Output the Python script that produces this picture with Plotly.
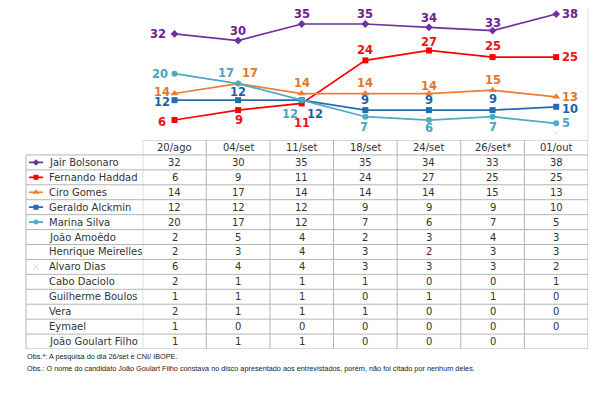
import plotly.graph_objects as go

dates = ["20/ago", "04/set", "11/set", "18/set", "24/set", "26/set*", "01/out"]
candidates = ["Jair Bolsonaro", "Fernando Haddad", "Ciro Gomes", "Geraldo Alckmin", "Marina Silva",
              "João Amoêdo", "Henrique Meirelles", "Alvaro Dias", "Cabo Daciolo", "Guilherme Boulos",
              "Vera", "Eymael", "João Goulart Filho"]
bolsonaro = [32, 30, 35, 35, 34, 33, 38]
haddad = [6, 9, 11, 24, 27, 25, 25]
ciro = [14, 17, 14, 14, 14, 15, 13]
alckmin = [12, 12, 12, 9, 9, 9, 10]
marina = [20, 17, 12, 7, 6, 7, 5]
amoedo = [2, 5, 4, 2, 3, 4, 3]
meirelles = [2, 3, 4, 3, 2, 3, 3]
dias = [6, 4, 4, 3, 3, 3, 2]
daciolo = [2, 1, 1, 1, 0, 0, 1]
boulos = [1, 1, 1, 0, 1, 1, 0]
vera = [2, 1, 1, 1, 0, 0, 0]
eymael = [1, 0, 0, 0, 0, 0, 0]
goulart = [1, 1, 1, 0, 0, 0, None]
rows = [bolsonaro, haddad, ciro, alckmin, marina, amoedo, meirelles, dias, daciolo, boulos, vera, eymael, goulart]
footnote1 = "Obs.*: A pesquisa do dia 26/set é CNI/ IBOPE."
footnote2 = "Obs.: O nome do candidato João Goulart Filho constava no disco apresentado aos entrevistados, porém, não foi citado por nenhum deles."

# page body has an 8px margin: work in page pixels and convert
OFF = 8
W, H = 598, 385
def px(x):
    return min(1.0, max(0.0, (x - OFF) / W))
def py(y):
    return min(1.0, max(0.0, (H - (y - OFF)) / H))

# y scale: value 0 at page y 139.9, 3.312 px per unit; axis top at page y 8
Y0_PIX, Y_PER = 139.9, 3.312
Y_TOP = (Y0_PIX - OFF) / Y_PER

series = [
    ("Jair Bolsonaro", bolsonaro, "#7030A0", "diamond", 6),
    ("Fernando Haddad", haddad, "#FF0000", "square", 6),
    ("Ciro Gomes", ciro, "#ED7D31", "triangle-up", 7),
    ("Geraldo Alckmin", alckmin, "#1F6DB5", "square", 6),
    ("Marina Silva", marina, "#4BACC6", "circle", 6),
]
label_colors = {"Jair Bolsonaro": "#702090", "Fernando Haddad": "#F01010", "Ciro Gomes": "#E8742A",
                "Geraldo Alckmin": "#1F5FA8", "Marina Silva": "#4BA5C2"}
placements = {
    "Jair Bolsonaro": [("right", -7, 0), ("center", 0, 10), ("center", 0, 10), ("center", 0, 10), ("center", 0, 9), ("center", 0, 8), ("left", 4, 0)],
    "Fernando Haddad": [("right", -7, -2), ("center", 1, -10), ("center", 0, -20), ("center", 0, 10), ("center", 0, 8), ("center", 0, 11), ("left", 4, 0)],
    "Ciro Gomes": [("right", -3, 2), ("left", 2, 11), ("center", 0, 11), ("center", 0, 11), ("center", 0, 8), ("center", 0, 10), ("left", 4, 0)],
    "Geraldo Alckmin": [("right", -3, -2), ("center", 0, 8), ("left", 3, -14), ("center", 0, 10), ("center", 0, 10), ("center", 0, 11), ("left", 4, -2)],
    "Marina Silva": [("right", -5, 0), ("right", -2, 11), ("right", -2, -14), ("center", -1, -10), ("center", 0, -8), ("center", 0, -10), ("left", 4, 0)],
}

fig = go.Figure()

# Alvaro Dias faint markers
fig.add_trace(go.Scatter(x=dates, y=dias, mode="markers", marker=dict(symbol="x-thin", size=6,
                         line=dict(color="#e3e3e3", width=1)), xaxis="x", yaxis="y", hoverinfo="skip"))

for name, vals, col, sym, sz in series:
    fig.add_trace(go.Scatter(x=dates, y=vals, mode="lines+markers", name=name,
                             line=dict(color=col, width=1.7),
                             marker=dict(symbol=sym, size=sz, color=col),
                             xaxis="x", yaxis="y", hoverinfo="skip", cliponaxis=False))

annotations = []
for name, vals, col, sym, sz in series:
    for i, v in enumerate(vals):
        xa, xs, ys = placements[name][i]
        annotations.append(dict(x=dates[i], y=v, xref="x", yref="y", text=str(v), showarrow=False,
                                xanchor=xa, yanchor="middle", xshift=xs, yshift=ys,
                                font=dict(family="DejaVu Sans", size=11.5, color=label_colors[name], weight="bold")))

# ---- table built on axes: x = date category, y3 = row index (header = -1)
tfont = dict(family="DejaVu Sans", size=10, color="#333333")
border = "#b4b4b4"
nrows = len(candidates)
for j, d in enumerate(dates):
    annotations.append(dict(x=d, y=-1, xref="x", yref="y3", text=d, showarrow=False,
                            xanchor="center", yanchor="middle", font=tfont))
    for i, r in enumerate(rows):
        if r[j] is None:
            continue
        annotations.append(dict(x=d, y=i, xref="x", yref="y3", text=str(r[j]), showarrow=False,
                                xanchor="center", yanchor="middle", font=tfont))
for i, c in enumerate(candidates):
    annotations.append(dict(x=21, y=i, xref="x2", yref="y3", text=c, showarrow=False,
                            xanchor="left", yanchor="middle", font=tfont))

shapes = []
left_name = px(26)
right_edge = px(588)
shapes.append(dict(type="line", xref="x", yref="y3", x0=-0.5, x1=len(dates) - 0.5, y0=-1.5, y1=-1.5,
                   line=dict(color=border, width=1)))
for k in range(nrows + 1):
    shapes.append(dict(type="line", xref="paper", yref="y3", x0=left_name, x1=right_edge, y0=k - 0.5, y1=k - 0.5,
                       line=dict(color=border, width=1)))
shapes.append(dict(type="line", xref="paper", yref="y3", x0=left_name, x1=left_name, y0=-0.5, y1=nrows - 0.5,
                   line=dict(color=border, width=1)))
for j in range(len(dates) + 1):
    shapes.append(dict(type="line", xref="x", yref="y3", x0=j - 0.5, x1=j - 0.5, y0=-1.5, y1=nrows - 0.5,
                       line=dict(color=border, width=1)))
shapes.append(dict(type="line", xref="paper", yref="paper", x0=right_edge, x1=right_edge, y0=py(0), y1=py(140),
                   line=dict(color="#dddddd", width=1)))

# legend samples in table first column
for k, (name, vals, col, sym, sz) in enumerate(series):
    fig.add_trace(go.Scatter(x=[3, 17], y=[k, k], mode="lines", line=dict(color=col, width=1.7),
                             xaxis="x2", yaxis="y3", hoverinfo="skip"))
    fig.add_trace(go.Scatter(x=[10], y=[k], mode="markers", marker=dict(symbol=sym, size=sz - 1, color=col),
                             xaxis="x2", yaxis="y3", hoverinfo="skip"))
fig.add_trace(go.Scatter(x=[10], y=[candidates.index("Alvaro Dias")], mode="markers",
                         marker=dict(symbol="x-thin", size=6, line=dict(color="#dddddd", width=1)),
                         xaxis="x2", yaxis="y3", hoverinfo="skip"))

ffont = dict(family="Liberation Sans", size=7.3, color="#222222")
annotations.append(dict(x=px(25), y=py(356), xref="paper", yref="paper", text=footnote1, showarrow=False,
                        xanchor="left", yanchor="middle", font=ffont))
annotations.append(dict(x=px(25), y=py(368), xref="paper", yref="paper", text=footnote2, showarrow=False,
                        xanchor="left", yanchor="middle", font=ffont))

fig.update_layout(
    width=W, height=H, margin=dict(l=0, r=0, t=0, b=0),
    paper_bgcolor="white", plot_bgcolor="rgba(0,0,0,0)", showlegend=False,
    xaxis=dict(domain=[px(142.7), px(588)], range=[-0.5, 6.5], visible=False, type="category", anchor="y"),
    yaxis=dict(domain=[py(Y0_PIX), 1.0], range=[0, Y_TOP], visible=False, anchor="x"),
    xaxis2=dict(domain=[px(26), px(142.7)], range=[0, 116.7], visible=False, anchor="y3"),
    yaxis3=dict(domain=[py(349), py(140)], range=[nrows - 0.5, -1.5], visible=False, anchor="x2"),
    annotations=annotations, shapes=shapes,
)

fig.write_html("out.html")
